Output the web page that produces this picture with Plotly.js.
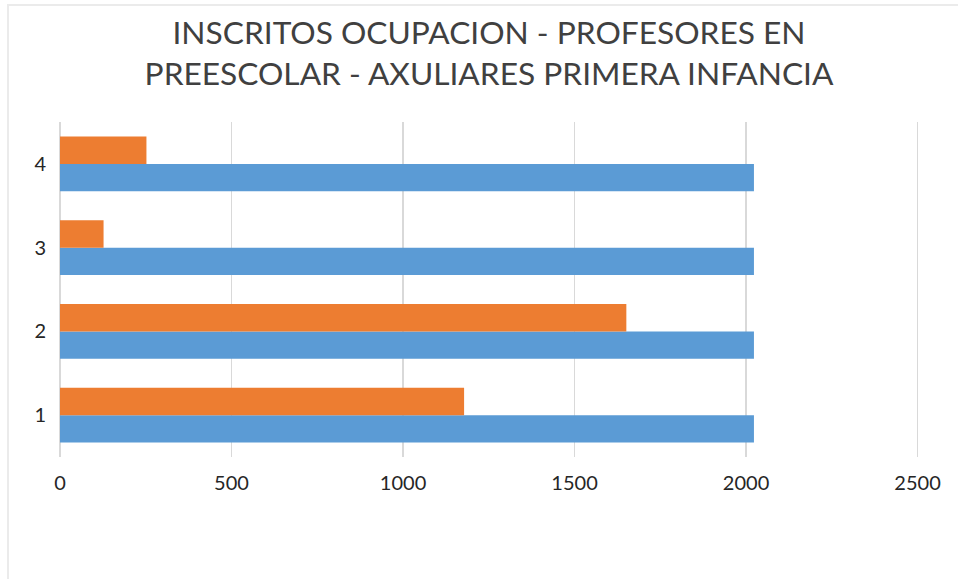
<!DOCTYPE html>
<html>
<head>
<meta charset="utf-8">
<script src="https://cdn.plot.ly/plotly-3.0.1.min.js"></script>
<style>
  html, body { margin: 0; padding: 0; background: #ffffff; }
  #wrap { position: relative; width: 958px; height: 579px; overflow: hidden; }
  #chart { position: absolute; left: 0; top: 0; width: 958px; height: 579px; }
  #frame { position: absolute; left: 7px; top: 4px; width: 980px; height: 600px;
           border-left: 2px solid #ebebeb; border-top: 2px solid #ebebeb; pointer-events: none; }
</style>
</head>
<body>
<div id="wrap">
  <div id="chart"></div>
  <div id="frame"></div>
</div>
<script>
// Data
const categories = [1, 2, 3, 4];
const seriesBlue = [2023, 2023, 2023, 2023];
const seriesOrange = [1178, 1651, 127, 252];
const xTickValues = [0, 500, 1000, 1500, 2000, 2500];
const xTickLabels = ['0', '500', '1000', '1500', '2000', '2500'];
const titleText = 'INSCRITOS OCUPACION - PROFESORES EN<br>PREESCOLAR - AXULIARES PRIMERA INFANCIA';

const FONT = 'Lato, "Open Sans", sans-serif';

const traces = [
  {
    type: 'bar', orientation: 'h', name: 'Serie 1',
    y: categories, x: seriesBlue,
    marker: { color: '#5B9BD5' },
    hoverinfo: 'x+y'
  },
  {
    type: 'bar', orientation: 'h', name: 'Serie 2',
    y: categories, x: seriesOrange,
    marker: { color: '#ED7D31' },
    hoverinfo: 'x+y'
  }
];

const layout = {
  width: 958, height: 579,
  paper_bgcolor: '#ffffff', plot_bgcolor: '#ffffff',
  margin: { l: 60, r: 37, t: 122, b: 121.5, pad: 0 },
  showlegend: false,
  barmode: 'group',
  bargap: 0.345,
  bargroupgap: 0,
  title: {
    text: titleText,
    font: { family: FONT, size: 31.7, color: '#404040' },
    xref: 'container', yref: 'container',
    x: 489 / 958, xanchor: 'center',
    y: 1 - 44 / 579, yanchor: 'middle'
  },
  xaxis: {
    range: [0, 2510],
    tickvals: xTickValues, ticktext: xTickLabels,
    showgrid: true, gridcolor: '#d9d9d9', gridwidth: 1.5,
    zeroline: true, zerolinecolor: '#d9d9d9', zerolinewidth: 1.5,
    showline: false, ticks: '',
    ticklabelstandoff: 12,
    tickfont: { family: FONT, size: 20, color: '#262626' },
    fixedrange: true
  },
  yaxis: {
    range: [0.5, 4.5],
    tickvals: categories, ticktext: categories.map(String),
    showgrid: false, zeroline: false, showline: false, ticks: '',
    ticklabelstandoff: 13,
    tickfont: { family: FONT, size: 20, color: '#262626' },
    fixedrange: true
  }
};

Plotly.newPlot('chart', traces, layout, { displayModeBar: false, staticPlot: true });
</script>
</body>
</html>
